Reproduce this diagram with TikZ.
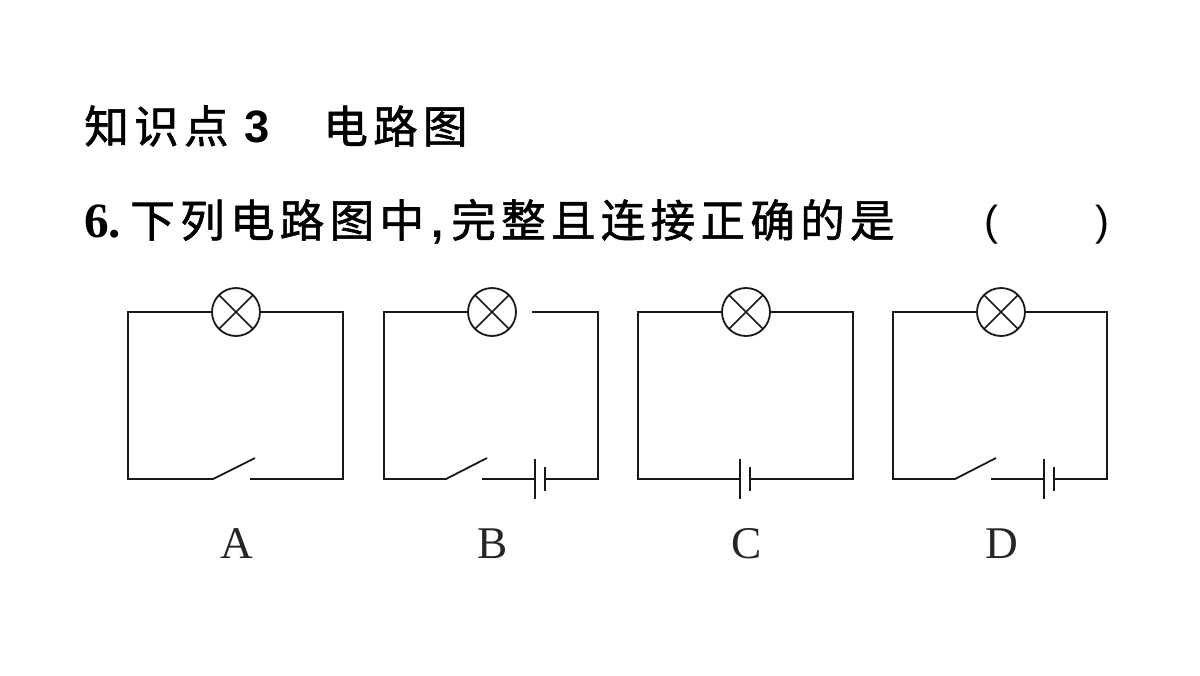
\documentclass[tikz,border=0pt]{standalone}
\usepackage{fontspec}
\setmainfont{Liberation Serif}
\newfontfamily\cjk[LetterSpace=11.6,FakeBold=1.3]{Noto Sans CJK SC}
\newfontfamily\heiti{Liberation Sans}
\tikzset{
  wire/.style={line width=1.35pt,black!90,line cap=butt,line join=miter},
  plate/.style={line width=1.3pt,black!90},
  lamp/.style={circle,draw=black!90,line width=1.35pt,minimum size=36pt,inner sep=0pt,fill=white,
    path picture={\draw[line width=1.2pt,black!90]
      (path picture bounding box.north west)--(path picture bounding box.south east)
      (path picture bounding box.north east)--(path picture bounding box.south west);}},
  cn/.style={font=\cjk\fontsize{33.5pt}{33.5pt}\selectfont,anchor=base west,inner sep=0pt,text=black},
  opt/.style={font=\fontsize{34pt}{34pt}\selectfont,anchor=base,inner sep=0pt,text=black!85},
  nb/.style={anchor=base west,inner sep=0pt,text=black}
}
\begin{document}
\begin{tikzpicture}[x=0.75pt,y=-0.75pt]
\useasboundingbox[fill=white] (0,0) rectangle (1200,675);
% headings
\node[cn] (h1) at (84,143) {知识点};
\node[nb,font=\heiti\bfseries\fontsize{34pt}{34pt}\selectfont] (h2) at (244,142) {3};
\node[cn] (h3) at (323,143) {电路图};
\node[nb,font=\bfseries\fontsize{37pt}{37pt}\selectfont] (q1) at (84,237) {6.};
\node[cn] (q2) at (130,237) {下列电路图中};
\node[nb,font=\heiti\bfseries\fontsize{33pt}{33pt}\selectfont] (q3) at (431,237) {,};
\node[cn] (q4) at (451,237) {完整且连接正确的是};
\node[nb,font=\heiti\fontsize{31.5pt}{31.5pt}\selectfont] (p1) at (984,235) {(};
\node[nb,font=\heiti\fontsize{31.5pt}{31.5pt}\selectfont] (p2) at (1095,235) {)};
% A
\node[lamp] (la) at (236,312) {};
\coordinate (a1) at (128,312); \coordinate (a2) at (343,312);
\coordinate (a3) at (343,479); \coordinate (a4) at (250,479);
\coordinate (a5) at (128,479); \coordinate (a6) at (213,479); \coordinate (a7) at (255,458);
\draw[wire] (la.west) -- (a1) -- (a5) -- (a6) -- (a7);
\draw[wire] (la.east) -- (a2) -- (a3) -- (a4);
\node[opt] (ta) at (237,558) {A};
% B
\node[lamp] (lb) at (492,312) {};
\coordinate (b1) at (384,312); \coordinate (b2) at (532,312); \coordinate (b3) at (598,312);
\coordinate (b4) at (598,479); \coordinate (b5) at (545,479); \coordinate (b6) at (535,479);
\coordinate (b7) at (482,479); \coordinate (b8) at (384,479); \coordinate (b9) at (446,479); \coordinate (b10) at (487,458);
\draw[wire] (lb.west) -- (b1) -- (b8) -- (b9) -- (b10);
\draw[wire] (b2) -- (b3) -- (b4) -- (b5);
\draw[wire] (b7) -- (b6);
\draw[plate] (535,459) -- (535,499);
\draw[plate] (545,467) -- (545,491);
\node[opt] (tb) at (493,558) {B};
% C
\node[lamp] (lc) at (746,312) {};
\coordinate (c1) at (638,312); \coordinate (c2) at (853,312);
\coordinate (c3) at (853,479); \coordinate (c4) at (750,479);
\coordinate (c5) at (740,479); \coordinate (c6) at (638,479);
\draw[wire] (lc.west) -- (c1) -- (c6) -- (c5);
\draw[wire] (lc.east) -- (c2) -- (c3) -- (c4);
\draw[plate] (740,459) -- (740,499);
\draw[plate] (750,467) -- (750,491);
\node[opt] (tc) at (747,558) {C};
% D
\node[lamp] (ld) at (1001,312) {};
\coordinate (d1) at (893,312); \coordinate (d2) at (1107,312);
\coordinate (d3) at (1107,479); \coordinate (d4) at (1054,479);
\coordinate (d5) at (1044,479); \coordinate (d6) at (991,479);
\coordinate (d7) at (893,479); \coordinate (d8) at (955,479); \coordinate (d9) at (996,458);
\draw[wire] (ld.west) -- (d1) -- (d7) -- (d8) -- (d9);
\draw[wire] (ld.east) -- (d2) -- (d3) -- (d4);
\draw[wire] (d6) -- (d5);
\draw[plate] (1044,459) -- (1044,499);
\draw[plate] (1054,467) -- (1054,491);
\node[opt] (td) at (1002,558) {D};
\end{tikzpicture}
\end{document}
